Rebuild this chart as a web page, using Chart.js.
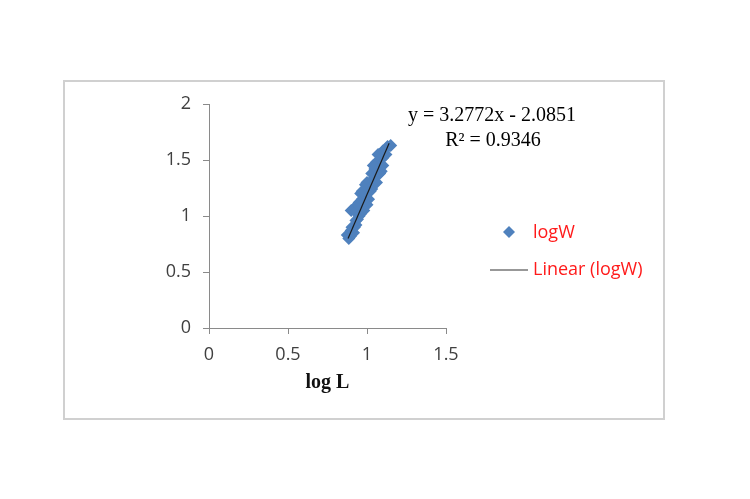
<!DOCTYPE html>
<html>
<head>
<meta charset="utf-8">
<script src="https://cdn.jsdelivr.net/npm/chart.js@4/dist/chart.umd.min.js"></script>
<style>
  html, body { margin: 0; padding: 0; background: #fff; }
  canvas { display: block; }
</style>
</head>
<body>
<canvas id="lwChart" width="750" height="499"></canvas>
<script>
// log L / log W の散布データ（図から目視で読み取り）
const logL = [0.875, 0.885, 0.89, 0.90, 0.915, 0.92, 0.90, 0.915, 0.93, 0.94,
  0.95, 0.96, 0.95, 0.97, 0.98, 0.96, 0.99, 1.00, 1.01, 1.02,
  0.99, 1.02, 1.03, 1.04, 1.03, 1.05, 1.06, 1.05, 1.07, 1.08,
  1.06, 1.09, 1.08, 1.10, 1.10, 1.12, 1.13, 1.15, 1.11,
  0.895, 0.905, 0.93, 0.97, 1.03, 1.00, 1.04, 1.06, 1.08, 1.10,
  1.04, 1.07, 1.12, 0.93, 0.96, 0.98, 1.00, 0.94];
const logW = [0.83, 0.80, 0.84, 0.87, 0.85, 0.90, 1.05, 1.06, 1.04, 0.97,
  1.00, 1.08, 1.12, 1.15, 1.10, 1.20, 1.18, 1.24, 1.15, 1.22,
  1.28, 1.30, 1.27, 1.33, 1.38, 1.30, 1.36, 1.42, 1.40, 1.45,
  1.48, 1.40, 1.55, 1.52, 1.58, 1.60, 1.62, 1.63, 1.55,
  0.82, 0.90, 0.92, 1.22, 1.24, 1.30, 1.28, 1.30, 1.38, 1.45,
  1.45, 1.55, 1.55, 0.96, 1.02, 1.05, 1.10, 1.10];

// 近似直線の両端
const trendX = [0.88, 1.14];
const trendY = [0.80, 1.65];

const xTicks = [0, 0.5, 1, 1.5];
const yTicks = [0, 0.5, 1, 1.5, 2];

const equation = "y = 3.2772x - 2.0851";
const rSquared = "R\u00b2 = 0.9346";
const seriesName = "logW";
const trendName = "Linear (logW)";

const BLUE = "#4F81BD";
const AXIS = "#8a8a8a";

// 外枠・数式・凡例は自前で描く
const decorations = {
  id: "decorations",
  beforeDraw(chart) {
    const ctx = chart.ctx;
    ctx.save();
    ctx.strokeStyle = "#d0d0d0";
    ctx.lineWidth = 2;
    ctx.strokeRect(64, 81, 600, 338);
    ctx.restore();
  },
  afterDraw(chart) {
    const ctx = chart.ctx;
    ctx.save();
    ctx.fillStyle = "#000";
    ctx.font = "20px 'Liberation Serif', 'Times New Roman', serif";
    ctx.textAlign = "center";
    ctx.textBaseline = "middle";
    ctx.fillText(equation, 492, 116);
    ctx.fillText(rSquared, 493, 141);

    // 凡例
    ctx.fillStyle = BLUE;
    ctx.beginPath();
    ctx.moveTo(509, 226);
    ctx.lineTo(515, 232);
    ctx.lineTo(509, 238);
    ctx.lineTo(503, 232);
    ctx.closePath();
    ctx.fill();

    ctx.strokeStyle = "#333";
    ctx.lineWidth = 1.2;
    ctx.beginPath();
    ctx.moveTo(490, 270);
    ctx.lineTo(528, 270);
    ctx.stroke();

    ctx.fillStyle = "#ff1a1a";
    ctx.font = "18px 'Open Sans', sans-serif";
    ctx.textAlign = "left";
    ctx.fillText(seriesName, 533, 233);
    ctx.fillText(trendName, 533, 270);
    ctx.restore();
  }
};

function renderChart() {
  const canvas = document.getElementById("lwChart");
  if (typeof Chart === "undefined") {
    console.error("Chart.js is not loaded");
    return;
  }

  const points = logL.map((x, i) => ({ x, y: logW[i] }));
  const trend = trendX.map((x, i) => ({ x, y: trendY[i] }));
  const tickFont = { family: "'Open Sans', sans-serif", size: 18 };

  new Chart(canvas.getContext("2d"), {
    type: "scatter",
    data: {
      datasets: [
        {
          label: trendName,
          data: trend,
          type: "line",
          showLine: true,
          borderColor: "#1a1a1a",
          borderWidth: 1.2,
          pointRadius: 0,
          fill: false
        },
        {
          label: seriesName,
          data: points,
          pointStyle: "rectRot",
          pointRadius: 6.5,
          backgroundColor: BLUE,
          borderColor: BLUE,
          borderWidth: 0
        }
      ]
    },
    options: {
      responsive: false,
      animation: false,
      layout: { padding: { left: 0, right: 304, top: 104, bottom: 101 } },
      plugins: {
        legend: { display: false },
        tooltip: { enabled: false }
      },
      scales: {
        x: {
          type: "linear",
          min: 0,
          max: 1.5,
          afterBuildTicks: (s) => { s.ticks = xTicks.map(v => ({ value: v })); },
          afterFit: (s) => { s.height = 70; },
          grid: { drawOnChartArea: false, drawTicks: true, tickLength: 6, color: AXIS },
          border: { color: AXIS },
          ticks: { padding: 10, color: "#404040", font: tickFont, callback: (v) => String(v) },
          title: {
            display: true,
            text: "log L",
            color: "#111",
            padding: { top: 4, bottom: 3 },
            font: { family: "'Liberation Serif', 'Times New Roman', serif", size: 20, weight: "bold" }
          }
        },
        y: {
          type: "linear",
          min: 0,
          max: 2,
          afterBuildTicks: (s) => { s.ticks = yTicks.map(v => ({ value: v })); },
          afterFit: (s) => { s.width = 209; },
          grid: { drawOnChartArea: false, drawTicks: true, tickLength: 6, color: AXIS },
          border: { color: AXIS },
          ticks: { padding: 12, color: "#404040", font: tickFont, callback: (v) => String(v) }
        }
      }
    },
    plugins: [decorations]
  });
}

renderChart();
</script>
</body>
</html>
